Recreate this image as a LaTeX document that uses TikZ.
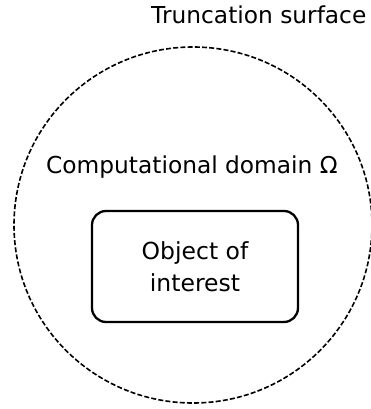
\documentclass[tikz,border=0pt]{standalone}
\usepackage{fontspec}
\setmainfont{DejaVu Sans}
\usetikzlibrary{shapes.geometric}
\begin{document}
\begin{tikzpicture}[x=1pt,y=-1pt,
  lbl/.style={font=\fontsize{23.3}{32}\selectfont, inner sep=0pt},
  boundary/.style={draw, ellipse, dash pattern=on 5pt off 2.2pt, line width=1.6pt,
    minimum width=358pt, minimum height=356pt, inner sep=0pt},
  objbox/.style={draw, rounded corners=14pt, line width=2.3pt,
    minimum width=206pt, minimum height=111pt, align=center, inner sep=0pt,
    font=\fontsize{23.5}{32}\selectfont}]
\useasboundingbox (0,0) rectangle (371,409);
\node[boundary] (trunc) at (193,225) {};
\node[objbox] (obj) at (195,266.5) {Object of\\interest};
\node[lbl, anchor=base west] (tlabel) at (151,24) {Truncation surface};
\node[lbl, anchor=base west] (dlabel) at (46,173) {Computational domain Ω};
\end{tikzpicture}
\end{document}
